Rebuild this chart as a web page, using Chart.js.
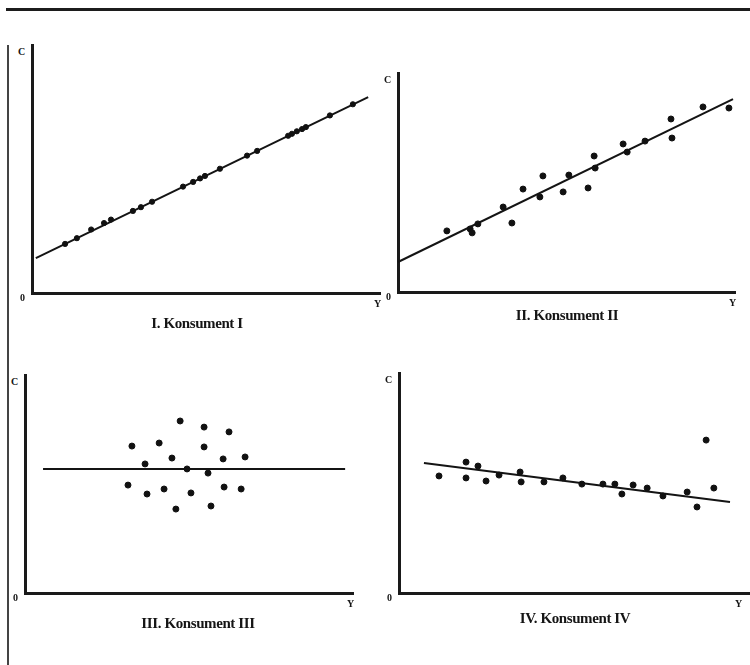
<!DOCTYPE html>
<html>
<head>
<meta charset="utf-8">
<script src="https://cdn.jsdelivr.net/npm/chart.js@4.4.1/dist/chart.umd.min.js"></script>
<style>
body{margin:0;width:750px;height:665px;background:#fff;position:relative;overflow:hidden;font-family:"Liberation Serif","DejaVu Serif",serif;color:#151515;}
canvas{position:absolute;}
.rule{position:absolute;background:#1c1c1c;}
.lbl{position:absolute;font-size:10px;font-weight:bold;line-height:10px;}
.ttl{position:absolute;font-size:15px;font-weight:bold;line-height:16px;white-space:nowrap;transform:translateX(-50%);letter-spacing:-0.4px;}
</style>
</head>
<body>
<div class="rule" style="left:6px;top:8px;width:744px;height:3px"></div>
<div class="rule" style="left:7px;top:45px;width:2px;height:620px;background:#444"></div>

<canvas id="c1"></canvas>
<canvas id="c2"></canvas>
<canvas id="c3"></canvas>
<canvas id="c4"></canvas>

<script>
// Konsument I - punkty dokladnie na prostej
const k1X = [0.95,1.29,1.70,2.07,2.27,2.90,3.13,3.45,4.34,4.63,4.83,4.97,5.40,6.18,6.47,7.36,7.47,7.61,7.76,7.87,8.56,9.22];
const k1Y = [1.98,2.21,2.56,2.82,2.96,3.31,3.46,3.68,4.29,4.48,4.62,4.72,5.01,5.54,5.73,6.34,6.42,6.52,6.61,6.69,7.16,7.61];
const k1LineX = [0.11, 9.66];
const k1LineY = [1.41, 7.90];

// Konsument II - rozrzut wokol prostej rosnacej
const k2X = [1.45,2.14,2.20,2.37,3.12,3.38,3.71,4.21,4.30,4.90,5.07,5.64,5.82,5.85,6.68,6.80,7.33,8.10,8.13,9.05,9.82];
const k2Y = [2.79,2.88,2.70,3.11,3.88,3.15,4.70,4.34,5.30,4.57,5.34,4.75,6.21,5.66,6.76,6.39,6.89,7.90,7.03,8.45,8.40];
const k2LineX = [0.0, 9.94];
const k2LineY = [1.37, 8.81];

// Konsument III - chmura bez zaleznosci
const k3X = [4.73,5.46,6.22,3.26,4.09,5.46,3.66,4.48,6.04,6.71,4.94,5.58,3.14,3.72,4.24,5.06,6.07,6.59,4.60,5.67];
const k3Y = [7.89,7.61,7.39,6.74,6.88,6.70,5.92,6.19,6.15,6.24,5.69,5.50,4.95,4.54,4.77,4.59,4.86,4.77,3.85,3.99];
const k3LineX = [0.55, 9.76];
const k3LineY = [5.69, 5.69];

// Konsument IV - slabo malejaca
const k4X = [1.14,1.91,1.91,2.25,2.48,2.85,3.45,3.48,4.13,4.67,5.21,5.81,6.15,6.35,6.67,7.07,7.52,8.21,8.49,8.97,8.75];
const k4Y = [5.32,5.95,5.23,5.77,5.09,5.36,5.50,5.05,5.05,5.23,4.95,4.95,4.95,4.50,4.91,4.77,4.41,4.59,3.91,4.77,6.95];
const k4LineX = [0.71, 9.43];
const k4LineY = [5.91, 4.14];

const titles = ["I. Konsument I", "II. Konsument II", "III. Konsument III", "IV. Konsument IV"];
const axisLabels = ["C", "0", "Y"];

// ramki wykresow w pikselach strony: lewa os, gora, koniec osi X, os X
const panels = [
    {id:'c1', left:32,  top:45,  right:380, bottom:293, xs:k1X, ys:k1Y, lx:k1LineX, ly:k1LineY, r:2.6, tx:197, ty:315},
    {id:'c2', left:398, top:73,  right:735, bottom:292, xs:k2X, ys:k2Y, lx:k2LineX, ly:k2LineY, r:3,   tx:567, ty:307},
    {id:'c3', left:25,  top:375, right:353, bottom:593, xs:k3X, ys:k3Y, lx:k3LineX, ly:k3LineY, r:3,   tx:198, ty:615},
    {id:'c4', left:399, top:373, right:750, bottom:593, xs:k4X, ys:k4Y, lx:k4LineX, ly:k4LineY, r:3,   tx:575, ty:610}
];

function toPoints(xs, ys){
    const pts = [];
    for(var i=0;i<xs.length;i++){
        pts.push({x:xs[i], y:ys[i]});
    }
    return pts;
}

function addText(cls, text, x, y){
    const el = document.createElement('div');
    el.className = cls;
    el.textContent = text;
    el.style.left = x + 'px';
    el.style.top = y + 'px';
    document.body.appendChild(el);
}

const PAD = 6;

panels.forEach(function(p, idx){
    const cv = document.getElementById(p.id);
    const w = p.right - p.left + 2*PAD;
    const h = p.bottom - p.top + 2*PAD;
    cv.width = w;
    cv.height = h;
    cv.style.left = (p.left - PAD) + 'px';
    cv.style.top = (p.top - PAD) + 'px';

    new Chart(cv, {
        type: 'scatter',
        data: {
            datasets: [
                {
                    data: toPoints(p.xs, p.ys),
                    backgroundColor: '#111',
                    borderColor: '#111',
                    pointRadius: p.r,
                    clip: false
                },
                {
                    type: 'line',
                    data: toPoints(p.lx, p.ly),
                    borderColor: '#141414',
                    borderWidth: 2,
                    pointRadius: 0,
                    fill: false,
                    clip: false
                }
            ]
        },
        options: {
            responsive: false,
            animation: false,
            devicePixelRatio: 1,
            layout: { padding: PAD },
            plugins: { legend: {display:false}, tooltip: {enabled:false} },
            scales: {
                x: {
                    type: 'linear', min: 0, max: 10,
                    grid: {display:false, drawTicks:false},
                    ticks: {display:false},
                    border: {display:true, color:'#1a1a1a', width:3}
                },
                y: {
                    type: 'linear', min: 0, max: 10,
                    grid: {display:false, drawTicks:false},
                    ticks: {display:false},
                    border: {display:true, color:'#1a1a1a', width:3}
                }
            }
        }
    });

    addText('lbl', axisLabels[0], p.left - 14, p.top + 2);
    addText('lbl', axisLabels[1], p.left - 12, p.bottom);
    addText('lbl', axisLabels[2], Math.min(p.right - 6, 735), p.bottom + 6);
    addText('ttl', titles[idx], p.tx, p.ty);
});
</script>
</body>
</html>
